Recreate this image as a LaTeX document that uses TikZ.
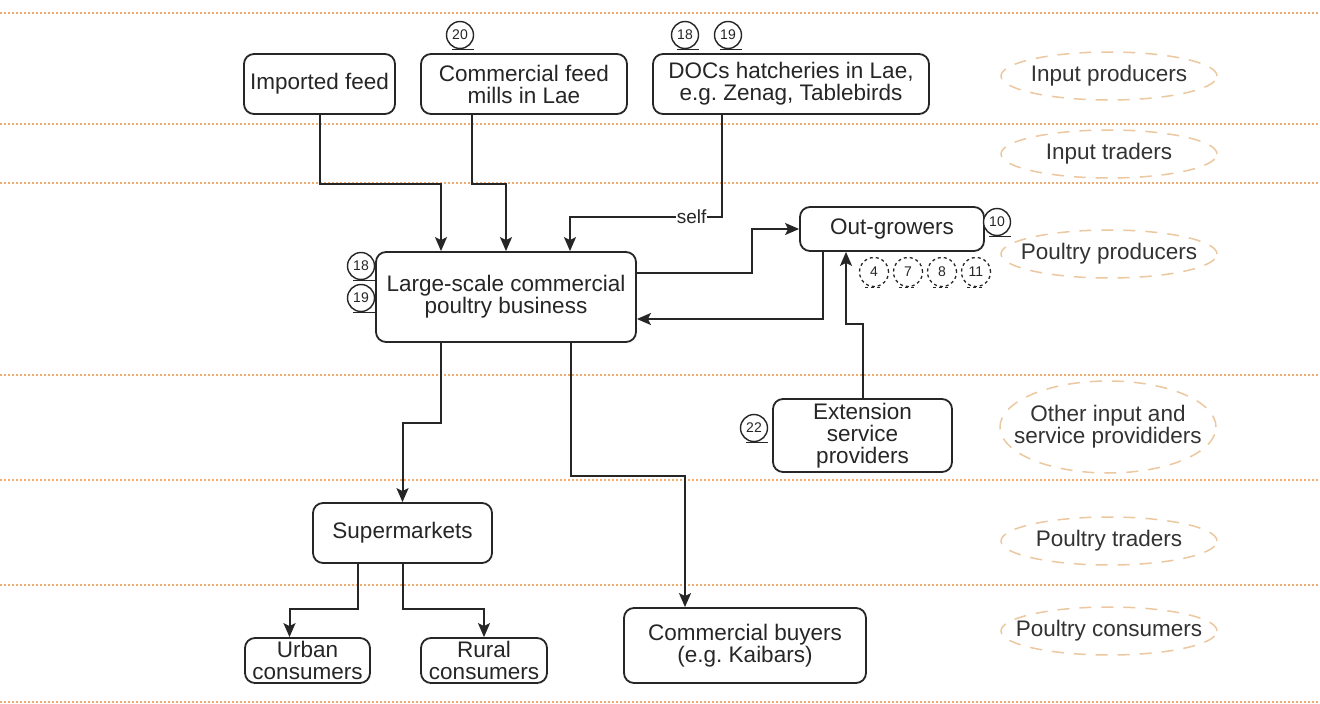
\documentclass[tikz,border=0pt]{standalone}
\usepackage{fontspec}
\setmainfont{Liberation Sans}
\usepackage{tikz}
\usetikzlibrary{arrows.meta,shapes.geometric}
\frenchspacing
\newcommand{\boxfont}{\fontsize{22.5}{22}\selectfont}
\newcommand{\badgefont}{\fontsize{14}{14}\selectfont}
\newcommand{\selffont}{\fontsize{19}{19}\selectfont}
\definecolor{layerorange}{RGB}{240,172,112}
\definecolor{layertan}{RGB}{236,200,160}
\tikzstyle{line} = [draw, draw=black!85, line width=2pt, -{Stealth[length=14pt,width=12pt,inset=3pt]}]
\tikzstyle{box} = [draw=black!85, line width=1.8pt, rounded corners=10pt, fill=white, align=center, text=black!85, inner sep=1pt, font=\boxfont]
\tikzstyle{layer} = [ellipse, draw=layertan, line width=1.5pt, dash pattern=on 12pt off 10pt, minimum width=216pt, minimum height=48pt, inner xsep=-25pt, inner ysep=-8pt, align=center, text=black!80, font=\boxfont]
\tikzstyle{layerline} = [draw=layerorange, line width=2pt, dash pattern=on 1.5pt off 2.5pt]
\tikzstyle{badge} = [circle, draw=black!85, line width=1.4pt, fill=white, minimum size=27pt, inner sep=0pt, text=black!85, font=\badgefont,
  append after command={([xshift=-8pt]\tikzlastnode.south) edge[draw=black!85, line width=1.4pt] ([xshift=14pt]\tikzlastnode.south)}]
\tikzstyle{dbadge} = [circle, draw=black!85, line width=1.3pt, dashed, fill=white, minimum size=29pt, inner sep=0pt, text=black!85, font=\badgefont,
  append after command={([xshift=-9pt]\tikzlastnode.south) edge[draw=black!85, line width=1.3pt, dashed] ([xshift=9pt]\tikzlastnode.south)}]

\begin{document}
\begin{tikzpicture}[x=1pt,y=-1pt]
    \useasboundingbox[fill=white] (0,0) rectangle (1320,704);

    % layer separators
    \foreach \ly in {13,124,183,375,480,585,702}
        \draw[layerline] (0,\ly) -- (1320,\ly);

    % layer labels
    \node[layer] (inprod) at (1109,76) {Input producers};
    \node[layer] (intrade) at (1109,154) {Input traders};
    \node[layer] (pprod) at (1109,254) {Poultry producers};
    \node[layer, minimum height=92pt] (other) at (1108,427) {Other input and\\service provididers};
    \node[layer] (ptrade) at (1109,541) {Poultry traders};
    \node[layer] (pcons) at (1109,631) {Poultry consumers};

    % actors
    \node[box, minimum width=151pt, minimum height=60pt] (imported) at (319.5,84) {Imported feed};
    \node[box, minimum width=206pt, minimum height=60pt] (mills) at (524,84) {Commercial feed\\mills in Lae};
    \node[box, minimum width=276pt, minimum height=60pt] (docs) at (791,84) {DOCs hatcheries in Lae,\\e.g. Zenag, Tablebirds};
    \node[box, minimum width=260pt, minimum height=90pt] (large) at (506,297) {Large-scale commercial\\poultry business};
    \node[box, minimum width=184pt, minimum height=44pt] (outgrowers) at (892,229) {Out-growers};
    \node[box, minimum width=179pt, minimum height=73pt] (extension) at (862.5,435.5) {Extension\\service\\providers};
    \node[box, minimum width=179pt, minimum height=60pt] (supermarkets) at (402.5,533) {Supermarkets};
    \node[box, minimum width=125pt, minimum height=45pt] (urban) at (307.5,660.5) {Urban\\consumers};
    \node[box, minimum width=126pt, minimum height=45pt] (rural) at (484,660.5) {Rural\\consumers};
    \node[box, minimum width=242pt, minimum height=75pt] (buyers) at (745,645.5) {Commercial buyers\\(e.g. Kaibars)};

    % sources
    \node[badge] (src20) at (460,35) {20};
    \node[badge] (src18a) at (685,35) {18};
    \node[badge] (src19a) at (728,35) {19};
    \node[badge] (src18b) at (361,266) {18};
    \node[badge] (src19b) at (361,298) {19};
    \node[badge] (src10) at (997,222) {10};
    \node[badge] (src22) at (754,428) {22};
    \foreach \sx/\sn in {874/4,908/7,942/8,976/11}
        \node[dbadge] (src\sn) at (\sx,272) {\sn};

    % flows
    \draw[line] (imported.south) -- ++(0,69) -| ([xshift=-65pt]large.north);
    \draw[line] ([xshift=-52pt]mills.south) -- ++(0,69) -| (large.north);
    \draw[line] ([xshift=-69pt]docs.south) |- node[pos=0.6, fill=white, inner sep=1pt, text=black!85, font=\selffont] {self} ([xshift=64pt,yshift=34pt]large.north) -- ([xshift=64pt]large.north);
    \draw[line] ([yshift=24pt]large.east) -- ++(115,0) |- (outgrowers.west);
    \draw[line] ([xshift=-69pt]outgrowers.south) |- ([yshift=-22pt]large.east);
    \draw[line] (extension.north) -- ++(0,-74) -| ([xshift=-46pt]outgrowers.south);
    \draw[line] ([xshift=-65pt]large.south) -- ++(0,80) -| (supermarkets.north);
    \draw[line] ([xshift=65pt]large.south) -- ++(0,133) -| ([xshift=-60pt]buyers.north);
    \draw[line] ([xshift=-45pt]supermarkets.south) -- ++(0,45) -| ([xshift=-18pt]urban.north);
    \draw[line] (supermarkets.south) -- ++(0,45) -| (rural.north);

\end{tikzpicture}
\end{document}
